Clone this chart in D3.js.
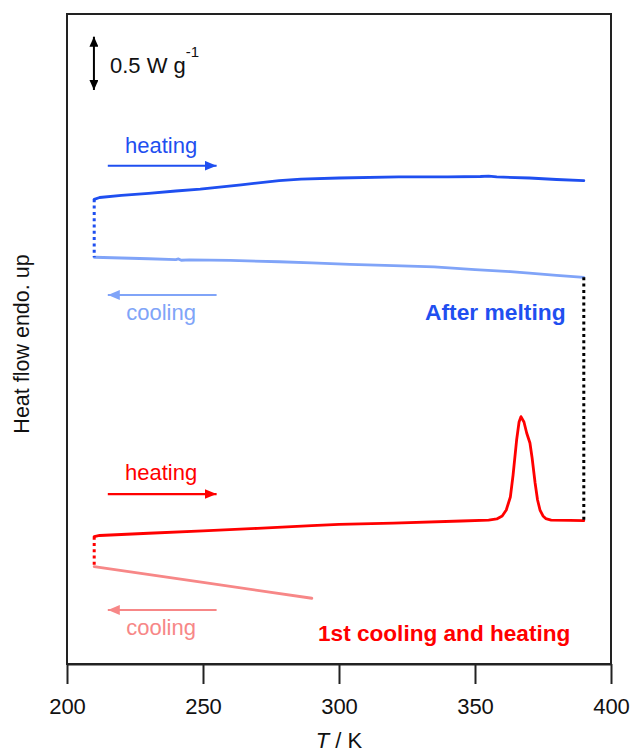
<!DOCTYPE html>
<html>
<head>
<meta charset="utf-8">
<script src="https://cdn.jsdelivr.net/npm/d3@7"></script>
<style>
  html, body { margin: 0; padding: 0; background: #fff; }
  svg { display: block; font-family: "Liberation Sans", Arial, sans-serif; }
</style>
</head>
<body>
<svg id="chart" width="630" height="754"></svg>
<script>
// DSC traces, heat flow in W g^-1 (curves vertically offset for clarity)
const tickTemps = [200, 250, 300, 350, 400];

// After melting: heating (dark blue) and cooling (light blue)
const meltHeatT  = [210, 212, 220, 230, 240, 249, 264, 278, 286, 300, 322, 340, 352, 355, 358, 370, 380, 390];
const meltHeatHF = [4.361, 4.378, 4.397, 4.417, 4.439, 4.457, 4.497, 4.536, 4.550, 4.561, 4.571, 4.572, 4.575, 4.579, 4.571, 4.561, 4.547, 4.536];

const meltCoolT  = [390, 380, 370, 363, 350, 335, 320, 304, 290, 278, 260, 245, 242, 241, 240, 230, 220, 210];
const meltCoolHF = [3.629, 3.648, 3.669, 3.682, 3.702, 3.726, 3.738, 3.751, 3.765, 3.775, 3.787, 3.793, 3.789, 3.801, 3.794, 3.803, 3.810, 3.817];

// 1st cooling and heating: heating (red) with melting peak, cooling (light red)
const firstHeatT  = [210, 212, 230, 250, 270, 290, 300, 320, 345, 355, 358, 360, 361.5, 363, 364, 365.3, 366.2, 366.9, 368, 369, 370.2, 371, 372.1, 373, 373.9, 375, 376, 378, 385, 390];
const firstHeatHF = [1.195, 1.206, 1.227, 1.250, 1.273, 1.299, 1.311, 1.323, 1.342, 1.351, 1.361, 1.389, 1.445, 1.567, 1.774, 2.102, 2.271, 2.321, 2.271, 2.168, 2.074, 1.933, 1.699, 1.539, 1.445, 1.389, 1.365, 1.351, 1.347, 1.345];

const firstCoolT  = [210, 250, 290];
const firstCoolHF = [0.913, 0.765, 0.617];

// Direction arrows (temperature span) and their heat-flow levels
const arrowSpan = [215, 255];
const arrowLevels = { meltHeat: 4.676, meltCool: 3.463, firstHeat: 1.595, firstCool: 0.507 };

// Scale bar: 0.5 W g^-1
const scaleBarT = 209.9;
const scaleBarBase = 5.387;
const scaleBarSize = 0.5;

const colors = {
  meltHeat: "#1f4ff0",
  meltCool: "#80a4f8",
  firstHeat: "#ff0000",
  firstCool: "#f78787",
  axis: "#222"
};

const svg = d3.select("#chart");
const plot = { left: 67, right: 611, top: 14, bottom: 664 };

const x = d3.scaleLinear().domain([200, 400]).range([plot.left, plot.right]);
const y = d3.scaleLinear().domain([0, 6.1]).range([plot.bottom, plot.top]);

const line = d3.line().x(d => x(d[0])).y(d => y(d[1]));
const zip = (a, b) => a.map((v, i) => [v, b[i]]);

// Frame
svg.append("rect")
  .attr("x", plot.left).attr("y", plot.top)
  .attr("width", plot.right - plot.left).attr("height", plot.bottom - plot.top)
  .attr("fill", "none").attr("stroke", colors.axis).attr("stroke-width", 2);

// Bottom axis
const xAxis = svg.append("g")
  .attr("transform", `translate(0,${plot.bottom})`)
  .call(d3.axisBottom(x).tickValues(tickTemps).tickSize(20).tickSizeOuter(0).tickPadding(14));
xAxis.select(".domain").attr("stroke", colors.axis).attr("stroke-width", 2);
xAxis.selectAll(".tick line").attr("stroke", colors.axis).attr("stroke-width", 2);
xAxis.selectAll(".tick text")
  .attr("fill", "#111")
  .attr("font-size", 22)
  .attr("font-family", "Liberation Sans, Arial, sans-serif");

// Axis titles
const xTitle = svg.append("text")
  .attr("x", x(300)).attr("y", 748)
  .attr("text-anchor", "middle")
  .attr("font-size", 22).attr("fill", "#111");
xTitle.append("tspan").attr("font-style", "italic").text("T");
xTitle.append("tspan").text(" / K");

svg.append("text")
  .attr("transform", "translate(29,344) rotate(-90)")
  .attr("text-anchor", "middle")
  .attr("font-size", 21.5).attr("fill", "#111")
  .text("Heat flow endo. up");

// Arrowhead markers
const defs = svg.append("defs");
function marker(id, color, len, wid) {
  defs.append("marker")
    .attr("id", id)
    .attr("markerUnits", "userSpaceOnUse")
    .attr("viewBox", `0 0 ${len} ${wid}`)
    .attr("refX", len).attr("refY", wid / 2)
    .attr("markerWidth", len).attr("markerHeight", wid)
    .attr("orient", "auto-start-reverse")
    .append("path")
    .attr("d", `M0,0L${len},${wid / 2}L0,${wid}Z`)
    .attr("fill", color);
}
marker("head-meltHeat", colors.meltHeat, 12, 10);
marker("head-meltCool", colors.meltCool, 12, 10);
marker("head-firstHeat", colors.firstHeat, 12, 10);
marker("head-firstCool", colors.firstCool, 12, 10);
marker("head-scale", "#000", 10, 9);

// Curves
const curves = [
  { T: meltHeatT, HF: meltHeatHF, color: colors.meltHeat },
  { T: meltCoolT, HF: meltCoolHF, color: colors.meltCool },
  { T: firstHeatT, HF: firstHeatHF, color: colors.firstHeat },
  { T: firstCoolT, HF: firstCoolHF, color: colors.firstCool }
];
curves.forEach(c => {
  svg.append("path")
    .datum(zip(c.T, c.HF))
    .attr("d", line)
    .attr("fill", "none")
    .attr("stroke", c.color)
    .attr("stroke-width", 2.8)
    .attr("stroke-linejoin", "round")
    .attr("stroke-linecap", "round");
});

// Dotted connectors between consecutive runs
const connectors = [
  { T: meltHeatT[0], from: meltHeatHF[0], to: meltCoolHF[meltCoolHF.length - 1], color: colors.meltHeat },
  { T: meltCoolT[0], from: meltCoolHF[0], to: firstHeatHF[firstHeatHF.length - 1], color: "#000" },
  { T: firstHeatT[0], from: firstHeatHF[0], to: firstCoolHF[0], color: colors.firstHeat }
];
connectors.forEach(c => {
  svg.append("line")
    .attr("x1", x(c.T)).attr("x2", x(c.T))
    .attr("y1", y(c.from)).attr("y2", y(c.to))
    .attr("stroke", c.color)
    .attr("stroke-width", 3)
    .attr("stroke-dasharray", "3,3.3");
});

// Direction arrows with labels
const arrows = [
  { key: "meltHeat", dir: 1, label: "heating", dy: -12.5 },
  { key: "meltCool", dir: -1, label: "cooling", dy: 25 },
  { key: "firstHeat", dir: 1, label: "heating", dy: -14 },
  { key: "firstCool", dir: -1, label: "cooling", dy: 25 }
];
arrows.forEach(a => {
  const yy = y(arrowLevels[a.key]);
  const [t0, t1] = a.dir > 0 ? arrowSpan : [arrowSpan[1], arrowSpan[0]];
  svg.append("line")
    .attr("x1", x(t0)).attr("x2", x(t1))
    .attr("y1", yy).attr("y2", yy)
    .attr("stroke", colors[a.key]).attr("stroke-width", 2.2)
    .attr("marker-end", `url(#head-${a.key})`);
  svg.append("text")
    .attr("x", x(234.6)).attr("y", yy + a.dy)
    .attr("text-anchor", "middle")
    .attr("font-size", 22)
    .attr("fill", colors[a.key])
    .text(a.label);
});

// Run titles
svg.append("text")
  .attr("x", 425).attr("y", y(arrowLevels.meltCool) + 25)
  .attr("font-size", 22.8).attr("font-weight", "bold")
  .attr("fill", colors.meltHeat)
  .text("After melting");
svg.append("text")
  .attr("x", 318).attr("y", y(arrowLevels.firstCool) + 31)
  .attr("font-size", 22.6).attr("font-weight", "bold")
  .attr("fill", colors.firstHeat)
  .text("1st cooling and heating");

// Scale bar
svg.append("line")
  .attr("x1", x(scaleBarT)).attr("x2", x(scaleBarT))
  .attr("y1", y(scaleBarBase)).attr("y2", y(scaleBarBase + scaleBarSize))
  .attr("stroke", "#000").attr("stroke-width", 2)
  .attr("marker-start", "url(#head-scale)")
  .attr("marker-end", "url(#head-scale)");
const sbText = svg.append("text")
  .attr("x", 110).attr("y", 73)
  .attr("font-size", 22).attr("fill", "#111");
sbText.append("tspan").text(`${scaleBarSize} W g`);
sbText.append("tspan").attr("dy", -16).attr("font-size", 15).text("-1");
</script>
</body>
</html>
